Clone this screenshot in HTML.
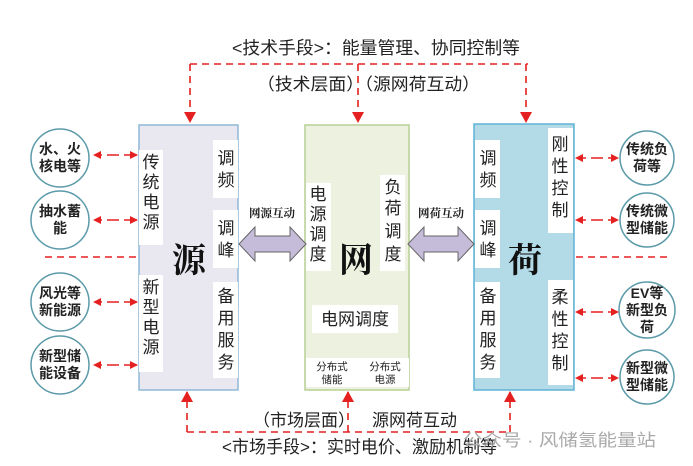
<!DOCTYPE html>
<html><head><meta charset="utf-8"><style>
body{margin:0;background:#fff}
svg{display:block}
text{font-family:"Liberation Sans","Noto Sans CJK SC",sans-serif;fill:#222}
.v{font-size:17px}
.s{font-size:10.5px;fill:#444}
.c{font-size:14px;font-weight:bold;fill:#333}
</style></head><body>
<svg width="693" height="466" viewBox="0 0 693 466" xmlns="http://www.w3.org/2000/svg">
<defs>
<marker id="a" markerWidth="8" markerHeight="8" refX="7" refY="4" orient="auto" markerUnits="userSpaceOnUse"><path d="M0,0 L8,4 L0,8z" fill="#e52020"/></marker>
<marker id="b" markerWidth="12" markerHeight="12" refX="10" refY="6" orient="auto" markerUnits="userSpaceOnUse"><path d="M0,0 L11,6 L0,12z" fill="#e52020"/></marker>
</defs>
<text x="232" y="54" font-size="17.5" textLength="288" lengthAdjust="spacingAndGlyphs">&lt;技术手段&gt;：能量管理、协同控制等</text>
<text x="257" y="90" font-size="17" textLength="223" lengthAdjust="spacingAndGlyphs">（技术层面）（源网荷互动）</text>
<g stroke="#e52020" stroke-width="1.6" stroke-dasharray="7,5" fill="none">
<path d="M190,64 H528"/>
<path d="M190,64 V122" marker-end="url(#b)"/>
<path d="M358,64 V122" marker-end="url(#b)"/>
<path d="M526,64 V122" marker-end="url(#b)"/>
<path d="M187,432 H510"/>
<path d="M187,432 V392" marker-end="url(#b)"/>
<path d="M348,432 V392" marker-end="url(#b)"/>
<path d="M510,432 V392" marker-end="url(#b)"/>
<path d="M45,257 H139"/>
<path d="M576,257 H670"/>
</g>
<rect x="139" y="125" width="99" height="265" fill="#e9e7f0" stroke="#8fb8d8" stroke-width="1.5"/>
<rect x="305" y="125" width="104" height="265" fill="#edf2e0" stroke="#b7d095" stroke-width="1.5"/>
<rect x="474" y="124" width="100" height="266" fill="#b2dae7" stroke="#5fb3d6" stroke-width="1.5"/>
<g fill="#fff">
<rect x="139" y="150" width="24" height="95"/><rect x="139" y="275" width="24" height="97"/>
<rect x="213" y="140" width="25" height="58"/><rect x="213" y="210" width="25" height="58"/><rect x="213" y="282" width="25" height="96"/>
<rect x="306" y="183" width="25" height="88"/><rect x="380" y="175" width="25" height="96"/>
<rect x="312" y="305" width="86" height="28"/><rect x="306" y="358" width="103" height="29"/>
<rect x="475" y="140" width="25" height="58"/><rect x="475" y="210" width="25" height="58"/><rect x="475" y="282" width="25" height="96"/>
<rect x="548" y="128" width="25" height="105"/><rect x="548" y="280" width="25" height="105"/>
</g>
<g class="v" text-anchor="middle">
<text x="151" y="168">传</text><text x="151" y="188">统</text><text x="151" y="208">电</text><text x="151" y="228">源</text>
<text x="151" y="293">新</text><text x="151" y="313">型</text><text x="151" y="333">电</text><text x="151" y="353">源</text>
<text x="226" y="164">调</text><text x="226" y="186">频</text>
<text x="226" y="234">调</text><text x="226" y="256">峰</text>
<text x="226" y="302">备</text><text x="226" y="324">用</text><text x="226" y="346">服</text><text x="226" y="368">务</text>
<text x="318" y="200">电</text><text x="318" y="220">源</text><text x="318" y="240">调</text><text x="318" y="260">度</text>
<text x="393" y="193">负</text><text x="393" y="214">荷</text><text x="393" y="237">调</text><text x="393" y="260">度</text>
<text x="355" y="325">电网调度</text>
<text x="488" y="164">调</text><text x="488" y="186">频</text>
<text x="488" y="234">调</text><text x="488" y="256">峰</text>
<text x="488" y="302">备</text><text x="488" y="324">用</text><text x="488" y="346">服</text><text x="488" y="368">务</text>
<text x="560" y="150">刚</text><text x="560" y="172">性</text><text x="560" y="194">控</text><text x="560" y="216">制</text>
<text x="560" y="303">柔</text><text x="560" y="325">性</text><text x="560" y="347">控</text><text x="560" y="369">制</text>
</g>
<g text-anchor="middle" class="s">
<text x="332" y="370">分布式</text><text x="332" y="383">储能</text>
<text x="385" y="370">分布式</text><text x="385" y="383">电源</text>
</g>
<g text-anchor="middle" font-size="34" font-weight="bold">
<text x="189" y="272" style="font-family:'Noto Serif CJK SC',serif;fill:#111">源</text>
<text x="356" y="272" style="font-family:'Noto Serif CJK SC',serif;fill:#111">网</text>
<text x="525" y="272" style="font-family:'Noto Serif CJK SC',serif;fill:#111">荷</text>
</g>
<path d="M239,244 L255,227 L255,236 L290,236 L290,227 L306,244 L290,261 L290,252 L255,252 L255,261Z" fill="#c5bcd9" stroke="#666" stroke-width="1"/>
<path d="M408,244 L424,227 L424,236 L458,236 L458,227 L474,244 L458,261 L458,252 L424,252 L424,261Z" fill="#c5bcd9" stroke="#666" stroke-width="1"/>
<text x="272" y="217" text-anchor="middle" font-size="11.5" font-weight="bold" style="font-family:'Noto Serif CJK SC',serif">网源互动</text>
<text x="441" y="217" text-anchor="middle" font-size="11.5" font-weight="bold" style="font-family:'Noto Serif CJK SC',serif">网荷互动</text>
<g fill="#fff" stroke="#5b9aa8" stroke-width="1.5">
<circle cx="60" cy="158" r="29"/><circle cx="60" cy="220" r="29"/><circle cx="60" cy="302" r="29"/><circle cx="60" cy="365" r="29"/>
<circle cx="647" cy="158" r="27"/><circle cx="647" cy="220" r="27"/><circle cx="647" cy="310" r="28"/><circle cx="647" cy="377" r="27"/>
</g>
<g text-anchor="middle" class="c">
<text x="60" y="154">水、火</text><text x="60" y="171">核电等</text>
<text x="60" y="216">抽水蓄</text><text x="60" y="233">能</text>
<text x="60" y="298">风光等</text><text x="60" y="315">新能源</text>
<text x="60" y="361">新型储</text><text x="60" y="378">能设备</text>
<text x="647" y="154">传统负</text><text x="647" y="171">荷等</text>
<text x="647" y="216">传统微</text><text x="647" y="233">型储能</text>
<text x="647" y="298">EV等</text><text x="647" y="315">新型负</text><text x="647" y="332">荷</text>
<text x="647" y="373">新型微</text><text x="647" y="390">型储能</text>
</g>
<g stroke="#e52020" stroke-width="1.5" stroke-dasharray="6,5" fill="none">
<path d="M113,155 H137" marker-end="url(#a)"/><path d="M113,155 H94" marker-end="url(#a)"/>
<path d="M113,220 H137" marker-end="url(#a)"/><path d="M113,220 H94" marker-end="url(#a)"/>
<path d="M113,302 H137" marker-end="url(#a)"/><path d="M113,302 H94" marker-end="url(#a)"/>
<path d="M113,365 H137" marker-end="url(#a)"/><path d="M113,365 H94" marker-end="url(#a)"/>
<path d="M597,158 H618" marker-end="url(#a)"/><path d="M597,158 H576" marker-end="url(#a)"/>
<path d="M597,220 H618" marker-end="url(#a)"/><path d="M597,220 H576" marker-end="url(#a)"/>
<path d="M597,312 H618" marker-end="url(#a)"/><path d="M597,312 H576" marker-end="url(#a)"/>
<path d="M597,378 H618" marker-end="url(#a)"/><path d="M597,378 H576" marker-end="url(#a)"/>
</g>
<text x="253" y="426" font-size="17">（市场层面）</text>
<text x="372" y="426" font-size="17">源网荷互动</text>
<text x="222" y="453" font-size="17.5" textLength="275" lengthAdjust="spacingAndGlyphs">&lt;市场手段&gt;：实时电价、激励机制等</text>
<text x="463" y="446" font-size="17" style="fill:#aaa" textLength="193" lengthAdjust="spacingAndGlyphs">公众号 · 风储氢能量站</text>
</svg>
</body></html>
